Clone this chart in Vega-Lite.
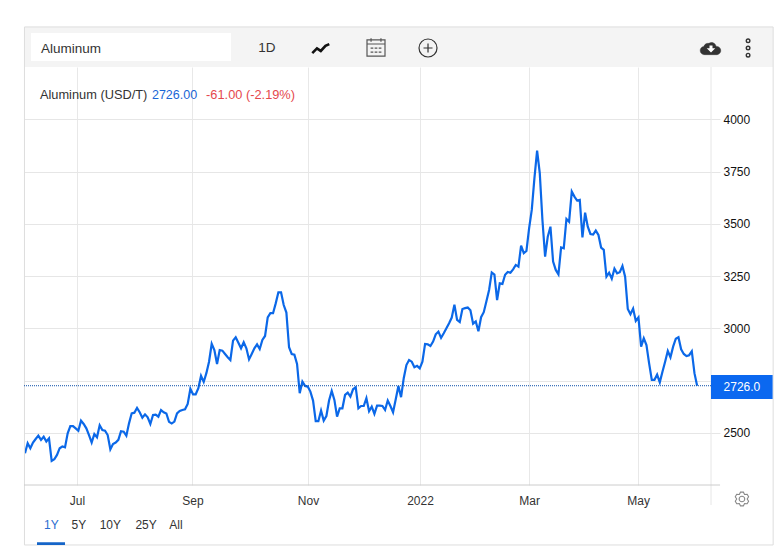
{"$schema":"https://vega.github.io/schema/vega-lite/v6.json","width":687,"height":418,"autosize":{"type":"none"},"padding":{"left":24,"top":67,"right":73,"bottom":75},"background":"white","config":{"view":{"stroke":null},"font":"Liberation Sans","text":{"font":"Liberation Sans"}},
"datasets":{"one":[{}],"series":[[0,2403],[1,2451],[2,2427],[3,2454],[4,2471],[5,2487],[6,2467],[7,2482],[8,2459],[9,2474],[10,2366],[11,2374],[12,2395],[13,2427],[14,2435],[15,2431],[16,2498],[17,2533],[18,2533],[19,2522],[20,2511],[21,2559],[22,2543],[23,2522],[24,2490],[25,2454],[26,2495],[27,2479],[28,2537],[29,2514],[30,2511],[31,2490],[32,2422],[33,2447],[34,2454],[35,2467],[36,2508],[37,2506],[38,2487],[39,2546],[40,2594],[41,2597],[42,2620],[43,2599],[44,2573],[45,2589],[46,2575],[47,2543],[48,2586],[49,2588],[50,2578],[51,2610],[52,2599],[53,2593],[54,2553],[55,2545],[56,2554],[57,2594],[58,2605],[59,2610],[60,2613],[61,2639],[62,2711],[63,2685],[64,2685],[65,2714],[66,2773],[67,2744],[68,2786],[69,2841],[70,2927],[71,2897],[72,2830],[73,2897],[74,2894],[75,2878],[76,2862],[77,2849],[78,2942],[79,2958],[80,2932],[81,2905],[82,2934],[83,2905],[84,2852],[85,2878],[86,2905],[87,2924],[88,2902],[89,2945],[90,2964],[91,3053],[92,3073],[93,3073],[94,3120],[95,3173],[96,3173],[97,3112],[98,3076],[99,2910],[100,2878],[101,2875],[102,2830],[103,2690],[104,2746],[105,2725],[106,2722],[107,2698],[108,2655],[109,2557],[110,2557],[111,2607],[112,2559],[113,2581],[114,2655],[115,2701],[116,2658],[117,2578],[118,2618],[119,2618],[120,2682],[121,2693],[122,2674],[123,2709],[124,2719],[125,2618],[126,2629],[127,2629],[128,2666],[129,2604],[130,2626],[131,2591],[132,2631],[133,2631],[134,2629],[135,2610],[136,2655],[137,2629],[138,2599],[139,2661],[140,2725],[141,2671],[142,2762],[143,2825],[144,2849],[145,2841],[146,2814],[147,2821],[148,2809],[149,2841],[150,2926],[151,2924],[152,2916],[153,2937],[154,2972],[155,2985],[156,2955],[157,2977],[158,3001],[159,3025],[160,3052],[161,3114],[162,3041],[163,3031],[164,3093],[165,3097],[166,3100],[167,3087],[168,3023],[169,3034],[170,2987],[171,3054],[172,3078],[173,3130],[174,3184],[175,3268],[176,3258],[177,3136],[178,3216],[179,3213],[180,3257],[181,3270],[182,3267],[183,3283],[184,3304],[185,3296],[186,3396],[187,3360],[188,3371],[189,3479],[190,3567],[191,3719],[192,3851],[193,3743],[194,3519],[195,3344],[196,3439],[197,3487],[198,3320],[199,3280],[200,3259],[201,3388],[202,3384],[203,3524],[204,3511],[205,3655],[206,3631],[207,3612],[208,3615],[209,3436],[210,3554],[211,3487],[212,3452],[213,3449],[214,3468],[215,3447],[216,3387],[217,3376],[218,3248],[219,3267],[220,3238],[221,3286],[222,3264],[223,3269],[224,3299],[225,3248],[226,3093],[227,3068],[228,3095],[229,3036],[230,3053],[231,2913],[232,2953],[233,2921],[234,2833],[235,2754],[236,2754],[237,2779],[238,2742],[239,2793],[240,2841],[241,2892],[242,2862],[243,2913],[244,2951],[245,2958],[246,2900],[247,2878],[248,2868],[249,2872],[250,2891],[251,2786],[252,2726]]},
"data":{"name":"series"},
"transform":[{"calculate":"datum[0]","as":"session"},{"calculate":"datum[1]","as":"price"}],
"layer":[
{"mark":{"type":"line","color":"#0b68e8","strokeWidth":2.2,"interpolate":"linear"},"encoding":{"x":{"field":"session","type":"quantitative","title":null,"scale":{"domain":[-0.375,257.2],"nice":false,"zero":false},"axis":{"values":[19.5,62.8,106.1,148.1,189,229.9],"labelExpr":"datum.value<30?'Jul':datum.value<80?'Sep':datum.value<120?'Nov':datum.value<160?'2022':datum.value<200?'Mar':'May'","grid":true,"gridColor":"#e8e8e8","domain":false,"ticks":false,"labelPadding":10,"labelFontSize":12,"labelColor":"#333333","labelFont":"Liberation Sans","labelFlush":false,"labelOverlap":false}},"y":{"field":"price","type":"quantitative","title":null,"scale":{"domain":[2251,4251],"nice":false,"zero":false},"axis":{"orient":"right","values":[2500,2750,3000,3250,3500,3750,4000],"labelExpr":"datum.value==2750?'':format(datum.value,'d')","grid":true,"gridColor":"#e6e6e6","domain":false,"ticks":true,"tickColor":"#e6e6e6","tickSize":9,"labelPadding":3,"labelFontSize":12,"labelColor":"#111111","labelFont":"Liberation Sans","labelOverlap":false}}}},
{"data":{"name":"one"},"mark":{"type":"rect","fill":"#f4f4f4"},"encoding":{"x":{"datum":-0.375,"type":"quantitative"},"x2":{"datum":280.5},"y":{"datum":4251,"type":"quantitative"},"y2":{"datum":4442.6}}},
{"data":{"name":"one"},"mark":{"type":"rect","fill":"#ffffff"},"encoding":{"x":{"datum":2.25,"type":"quantitative"},"x2":{"datum":77.25},"y":{"datum":4280,"type":"quantitative"},"y2":{"datum":4413.9}}},
{"data":{"name":"one"},"mark":{"type":"rect","fill":"transparent","stroke":"#dddddd","strokeWidth":1},"encoding":{"x":{"datum":-0.2,"type":"quantitative"},"x2":{"datum":280.5},"y":{"datum":1964,"type":"quantitative"},"y2":{"datum":4442.6}}},
{"data":{"name":"one"},"mark":{"type":"rule","color":"#e6e6e6","strokeWidth":1},"encoding":{"x":{"datum":257.2,"type":"quantitative"},"y":{"datum":2155,"type":"quantitative"},"y2":{"datum":4251}}},
{"data":{"name":"one"},"mark":{"type":"rule","color":"#cccccc","strokeWidth":1},"encoding":{"y":{"datum":2251,"type":"quantitative"},"x":{"datum":-0.375,"type":"quantitative"},"x2":{"datum":260.6}}},
{"data":{"name":"one"},"mark":{"type":"rule","color":"#0c4fa8","strokeWidth":1,"strokeDash":[1,1]},"encoding":{"y":{"datum":2726,"type":"quantitative"},"x":{"datum":-0.375,"type":"quantitative"},"x2":{"datum":257.2}}},
{"data":{"name":"one"},"mark":{"type":"rect","fill":"#0b68f0"},"encoding":{"x":{"datum":257.2,"type":"quantitative"},"x2":{"datum":280.3},"y":{"datum":2663,"type":"quantitative"},"y2":{"datum":2777.5}}},
{"data":{"name":"one"},"mark":{"type":"text","text":"2726.0","color":"#ffffff","fontSize":12,"align":"center","baseline":"middle"},"encoding":{"x":{"datum":268.8,"type":"quantitative"},"y":{"datum":2720,"type":"quantitative"}}},
{"data":{"name":"one"},"mark":{"type":"text","text":"Aluminum","color":"#333333","fontSize":13.5,"align":"left","baseline":"middle"},"encoding":{"x":{"datum":6,"type":"quantitative"},"y":{"datum":4335,"type":"quantitative"}}},
{"data":{"name":"one"},"mark":{"type":"text","text":"1D","color":"#333333","fontSize":13.5,"align":"center","baseline":"middle"},"encoding":{"x":{"datum":90.7,"type":"quantitative"},"y":{"datum":4340,"type":"quantitative"}}},
{"data":{"name":"one"},"mark":{"type":"text","text":"Aluminum (USD/T)","color":"#333333","fontSize":12.8,"align":"left","baseline":"middle"},"encoding":{"x":{"datum":5.6,"type":"quantitative"},"y":{"datum":4118,"type":"quantitative"}}},
{"data":{"name":"one"},"mark":{"type":"text","text":"2726.00","color":"#1a66d6","fontSize":12.5,"align":"left","baseline":"middle"},"encoding":{"x":{"datum":47.6,"type":"quantitative"},"y":{"datum":4118,"type":"quantitative"}}},
{"data":{"name":"one"},"mark":{"type":"text","text":"-61.00 (-2.19%)","color":"#e5484d","fontSize":12.8,"align":"left","baseline":"middle"},"encoding":{"x":{"datum":67.9,"type":"quantitative"},"y":{"datum":4118,"type":"quantitative"}}},
{"data":{"name":"one"},"mark":{"type":"text","text":"1Y","color":"#2a6dd0","fontSize":12,"align":"center","baseline":"middle"},"encoding":{"x":{"datum":9.9,"type":"quantitative"},"y":{"datum":2060,"type":"quantitative"}}},
{"data":{"name":"one"},"mark":{"type":"text","text":"5Y","color":"#333333","fontSize":12,"align":"center","baseline":"middle"},"encoding":{"x":{"datum":20.2,"type":"quantitative"},"y":{"datum":2060,"type":"quantitative"}}},
{"data":{"name":"one"},"mark":{"type":"text","text":"10Y","color":"#333333","fontSize":12,"align":"center","baseline":"middle"},"encoding":{"x":{"datum":32,"type":"quantitative"},"y":{"datum":2060,"type":"quantitative"}}},
{"data":{"name":"one"},"mark":{"type":"text","text":"25Y","color":"#333333","fontSize":12,"align":"center","baseline":"middle"},"encoding":{"x":{"datum":45.4,"type":"quantitative"},"y":{"datum":2060,"type":"quantitative"}}},
{"data":{"name":"one"},"mark":{"type":"text","text":"All","color":"#333333","fontSize":12,"align":"center","baseline":"middle"},"encoding":{"x":{"datum":56.6,"type":"quantitative"},"y":{"datum":2060,"type":"quantitative"}}},
{"data":{"name":"one"},"mark":{"type":"rect","fill":"#1565c8"},"encoding":{"x":{"datum":4.5,"type":"quantitative"},"x2":{"datum":15},"y":{"datum":1964,"type":"quantitative"},"y2":{"datum":1977}}},
{"data":{"name":"one"},"mark":{"type":"point","shape":"M-1,0.6L-0.45,0.05L0,0.35L0.55,-0.25L1,-0.45","filled":false,"stroke":"#111111","strokeWidth":2.6,"opacity":1,"size":289},"encoding":{"x":{"datum":110.9,"type":"quantitative"},"y":{"datum":4342,"type":"quantitative"}}},
{"data":{"name":"one"},"mark":{"type":"point","shape":"M-1,-0.8H1V1H-1ZM-1,-0.35H1M-0.55,-1V-0.6M0.55,-1V-0.6M-0.6,0.1H-0.3M-0.15,0.1H0.15M0.3,0.1H0.6M-0.6,0.55H-0.3M-0.15,0.55H0.15M0.3,0.55H0.6","filled":false,"stroke":"#555555","strokeWidth":1.2,"opacity":1,"size":324},"encoding":{"x":{"datum":131.6,"type":"quantitative"},"y":{"datum":4346,"type":"quantitative"}}},
{"data":{"name":"one"},"mark":{"type":"point","shape":"M-1,0A1,1 0 1 0 1,0A1,1 0 1 0 -1,0ZM0,-0.5V0.5M-0.5,0H0.5","filled":false,"stroke":"#333333","strokeWidth":1.2,"opacity":1,"size":324},"encoding":{"x":{"datum":151.1,"type":"quantitative"},"y":{"datum":4342,"type":"quantitative"}}},
{"data":{"name":"one"},"mark":{"type":"point","shape":"M-0.6,0.65A0.4,0.4 0 0 1 -0.7,-0.15A0.45,0.45 0 0 1 -0.2,-0.45A0.45,0.45 0 0 1 0.5,-0.15A0.38,0.38 0 0 1 0.6,0.65Z","filled":true,"fill":"#333333","stroke":"#333333","strokeWidth":0.5,"opacity":1,"size":420},"encoding":{"x":{"datum":257.2,"type":"quantitative"},"y":{"datum":4342,"type":"quantitative"}}},
{"data":{"name":"one"},"mark":{"type":"point","shape":"M-0.3,-0.6H0.3V-0.05H0.85L0,0.8L-0.85,-0.05H-0.3Z","filled":true,"fill":"#ffffff","strokeWidth":0,"opacity":1,"size":100},"encoding":{"x":{"datum":257.2,"type":"quantitative"},"y":{"datum":4339,"type":"quantitative"}}},
{"data":{"name":"one"},"mark":{"type":"point","shape":"M-0.2,-0.8A0.2,0.2 0 1 0 0.2,-0.8A0.2,0.2 0 1 0 -0.2,-0.8ZM-0.2,0A0.2,0.2 0 1 0 0.2,0A0.2,0.2 0 1 0 -0.2,0ZM-0.2,0.8A0.2,0.2 0 1 0 0.2,0.8A0.2,0.2 0 1 0 -0.2,0.8Z","filled":false,"stroke":"#333333","strokeWidth":1.4,"opacity":1,"size":324},"encoding":{"x":{"datum":271.1,"type":"quantitative"},"y":{"datum":4342,"type":"quantitative"}}},
{"data":{"name":"one"},"mark":{"type":"point","shape":"M-0.375,-0.65L-0.208,-0.978L0.208,-0.978L0.375,-0.65L0.743,-0.669L0.951,-0.309L0.75,0L0.951,0.309L0.743,0.669L0.375,0.65L0.208,0.978L-0.208,0.978L-0.375,0.65L-0.743,0.669L-0.951,0.309L-0.75,0L-0.951,-0.309L-0.743,-0.669ZM-0.4,0A0.4,0.4 0 1 0 0.4,0A0.4,0.4 0 1 0 -0.4,0Z","filled":false,"stroke":"#888888","strokeWidth":1.1,"opacity":1,"size":196},"encoding":{"x":{"datum":268.8,"type":"quantitative"},"y":{"datum":2184,"type":"quantitative"}}}
]}
